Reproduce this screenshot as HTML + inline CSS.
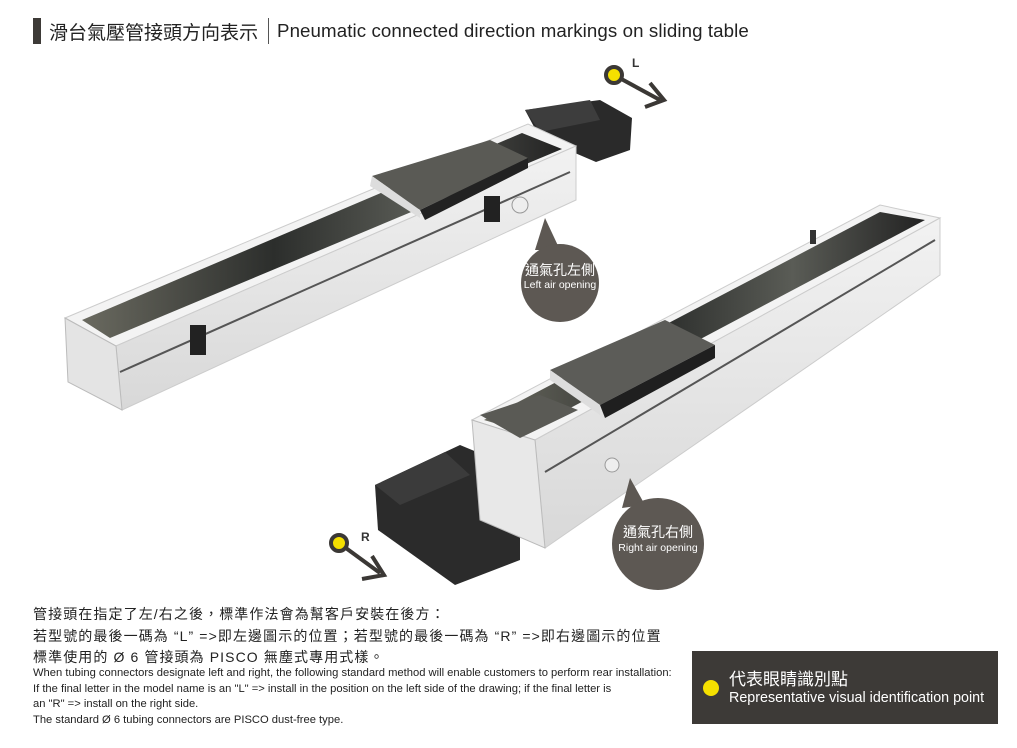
<!DOCTYPE html>
<html><head><meta charset="utf-8"><style>
body{margin:0;width:1017px;height:748px;background:#fff;position:relative;overflow:hidden;font-family:"Liberation Sans","Noto Sans CJK TC",sans-serif;}
.a{position:absolute;white-space:nowrap;}
</style></head><body>
<svg class="a" style="left:0;top:0" width="1017" height="748">
<defs>
<linearGradient id="dk" x1="0" y1="0" x2="1" y2="0"><stop offset="0" stop-color="#6a6a60"/><stop offset=".4" stop-color="#2c2e2c"/><stop offset=".7" stop-color="#5a5c56"/><stop offset="1" stop-color="#222"/></linearGradient>
<linearGradient id="sd" x1="0" y1="0" x2="0" y2="1"><stop offset="0" stop-color="#f2f2f2"/><stop offset="1" stop-color="#d8d8d8"/></linearGradient>
</defs>
<polygon points="525,110 600,100 632,118 630,150 596,162 540,138" fill="#2a2a2a"/>
<polygon points="525,110 590,100 600,120 540,132" fill="#3d3d3d"/>
<polygon points="65,318 528,124 576,146 116,346" fill="#f3f3f3" stroke="#ccc"/>
<polygon points="82,320 522,133 562,149 110,338" fill="url(#dk)"/>
<polygon points="116,346 576,146 576,200 122,410" fill="url(#sd)" stroke="#ccc"/>
<line x1="120" y1="372" x2="570" y2="172" stroke="#555" stroke-width="2"/>
<polygon points="65,318 116,346 122,410 68,382" fill="#e4e4e4" stroke="#bbb"/>
<polygon points="372,176 490,140 528,158 420,210" fill="#5a5a55"/>
<polygon points="372,176 420,210 420,218 370,186" fill="#ddd"/>
<polygon points="420,210 528,158 528,168 425,220" fill="#222"/>
<rect x="484" y="196" width="16" height="26" fill="#222"/>
<rect x="190" y="325" width="16" height="30" fill="#222"/>
<circle cx="520" cy="205" r="8" fill="#eee" stroke="#999"/>
<polygon points="375,485 460,445 520,470 520,560 455,585 378,530" fill="#2b2b2b"/>
<polygon points="375,485 445,452 470,475 400,505" fill="#3b3b3b"/>
<polygon points="472,420 880,205 940,218 535,440" fill="#f3f3f3" stroke="#ccc"/>
<polygon points="484,420 880,212 925,220 525,432" fill="url(#dk)"/>
<polygon points="535,440 940,218 940,275 545,548" fill="url(#sd)" stroke="#ccc"/>
<line x1="545" y1="472" x2="935" y2="240" stroke="#555" stroke-width="2"/>
<polygon points="472,420 535,440 545,548 480,520" fill="#e8e8e8" stroke="#bbb"/>
<polygon points="550,370 665,320 715,345 600,405" fill="#5c5c58"/>
<polygon points="550,370 600,405 600,415 550,380" fill="#ddd"/>
<polygon points="600,405 715,345 715,358 605,418" fill="#1f1f1f"/>
<polygon points="480,415 540,395 578,410 520,438" fill="#5a5a55"/>
<circle cx="612" cy="465" r="7" fill="#eee" stroke="#999"/>
<rect x="810" y="230" width="6" height="14" fill="#333"/>
<polygon points="535,250 545,218 560,250" fill="#5d5853"/>
<circle cx="560" cy="283" r="39" fill="#5d5853"/>
<polygon points="622,508 630,478 645,505" fill="#5d5853"/>
<circle cx="658" cy="544" r="46" fill="#5d5853"/>
<line x1="614" y1="75" x2="660" y2="100" stroke="#3b3835" stroke-width="4"/>
<polyline points="650,83 664,100 645,107" fill="none" stroke="#3b3835" stroke-width="4"/>
<circle cx="614" cy="75" r="8" fill="#f5e000" stroke="#3b3835" stroke-width="4"/>
<line x1="339" y1="543" x2="380" y2="573" stroke="#3b3835" stroke-width="4"/>
<polyline points="372,556 384,575 362,579" fill="none" stroke="#3b3835" stroke-width="4"/>
<circle cx="339" cy="543" r="8" fill="#f5e000" stroke="#3b3835" stroke-width="4"/>
</svg>
<div class="a" style="left:33px;top:18px;width:8px;height:26px;background:#3d3a37"></div>
<div class="a" style="left:49px;top:18px;font-size:19px;color:#222">滑台氣壓管接頭方向表示</div>
<div class="a" style="left:268px;top:18px;width:1px;height:26px;background:#555"></div>
<div class="a" style="left:277px;top:20px;font-size:18.7px;color:#222;letter-spacing:0.1px">Pneumatic connected direction markings on sliding table</div>
<div class="a" style="left:632px;top:56px;font-size:12px;font-weight:bold;color:#333">L</div>
<div class="a" style="left:361px;top:530px;font-size:12px;font-weight:bold;color:#333">R</div>
<div class="a" style="left:516px;top:260px;width:88px;text-align:center;color:#fff;font-size:14px">通氣孔左側</div>
<div class="a" style="left:510px;top:279px;width:100px;text-align:center;color:#fff;font-size:10.5px">Left air opening</div>
<div class="a" style="left:606px;top:522px;width:104px;text-align:center;color:#fff;font-size:14px">通氣孔右側</div>
<div class="a" style="left:602px;top:542px;width:112px;text-align:center;color:#fff;font-size:10.5px">Right air opening</div>
<div class="a" style="left:33px;top:604px;font-size:14px;color:#222;line-height:21.5px;letter-spacing:1.1px">管接頭在指定了左/右之後，標準作法會為幫客戶安裝在後方：<br>若型號的最後一碼為 “L” =>即左邊圖示的位置；若型號的最後一碼為 “R” =>即右邊圖示的位置<br>標準使用的 Ø 6 管接頭為 PISCO 無塵式專用式樣。</div>
<div class="a" style="left:33px;top:666px;font-size:11.2px;color:#222;line-height:15.5px">When tubing connectors designate left and right, the following standard method will enable customers to perform rear installation:<br>If the final letter in the model name is an "L" =&gt; install in the position on the left side of the drawing; if the final letter is<br>an "R" =&gt; install on the right side.<br>The standard Ø 6 tubing connectors are PISCO dust-free type.</div>
<div class="a" style="left:692px;top:651px;width:306px;height:73px;background:#3d3a37"></div>
<div class="a" style="left:703px;top:680px;width:16px;height:16px;border-radius:50%;background:#f5e000"></div>
<div class="a" style="left:729px;top:665px;font-size:17px;color:#fff">代表眼睛識別點</div>
<div class="a" style="left:729px;top:690px;font-size:14.3px;color:#fff">Representative visual identification point</div>
</body></html>
